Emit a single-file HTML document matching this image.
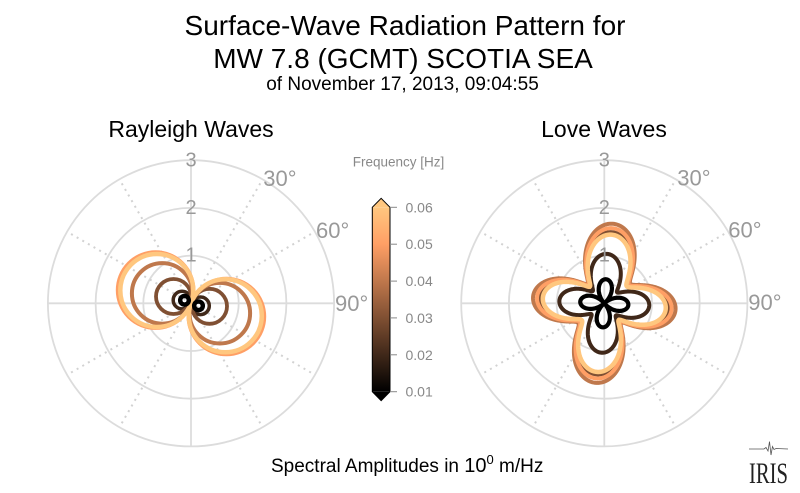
<!DOCTYPE html>
<html><head><meta charset="utf-8">
<style>html,body{margin:0;padding:0;background:#fff;}svg{display:block;}</style>
</head>
<body>
<svg width="800" height="493" viewBox="0 0 800 493" xmlns="http://www.w3.org/2000/svg" font-family="'Liberation Sans', Arial, sans-serif">
<defs>
<linearGradient id="cu" x1="0" y1="1" x2="0" y2="0">
<stop offset="0" stop-color="#000000"/>
<stop offset="0.8" stop-color="#ff9f65"/>
<stop offset="1" stop-color="#ffc77f"/>
</linearGradient>
</defs>
<rect width="800" height="493" fill="#fff"/>

<!-- Titles -->
<text x="405" y="35" font-size="28" text-anchor="middle" fill="#000">Surface-Wave Radiation Pattern for</text>
<text x="403" y="68" font-size="28" text-anchor="middle" fill="#000">MW 7.8 (GCMT) SCOTIA SEA</text>
<text x="402.5" y="90" font-size="19" text-anchor="middle" fill="#000">of November 17, 2013, 09:04:55</text>

<text x="191" y="137" font-size="23" text-anchor="middle" fill="#000">Rayleigh Waves</text>
<text x="604" y="137" font-size="23" text-anchor="middle" fill="#000">Love Waves</text>

<!-- LEFT POLAR -->
<g transform="translate(191,303.3)">
  <g fill="none" stroke="#dcdcdc" stroke-width="1.8">
    <circle r="47.7"/><circle r="95.4"/><circle r="143.1"/>
    <line x1="0" y1="-143.1" x2="0" y2="143.1"/>
    <line x1="-143.1" y1="0" x2="143.1" y2="0"/>
  </g>
  <g stroke="#d2d2d2" stroke-width="2" stroke-dasharray="2,4.5">
    <line x1="0" y1="0" x2="70.5" y2="-122.1"/>
    <line x1="0" y1="0" x2="122.1" y2="-70.5"/>
    <line x1="0" y1="0" x2="122.1" y2="70.5"/>
    <line x1="0" y1="0" x2="70.5" y2="122.1"/>
    <line x1="0" y1="0" x2="-70.5" y2="122.1"/>
    <line x1="0" y1="0" x2="-122.1" y2="70.5"/>
    <line x1="0" y1="0" x2="-122.1" y2="-70.5"/>
    <line x1="0" y1="0" x2="-70.5" y2="-122.1"/>
  </g>
  <g fill="none">
    <circle cx="-9" cy="-3.2" r="8.8" stroke="#402819" stroke-width="3.5"/>
    <circle cx="9.5" cy="2.5" r="8.8" stroke="#402819" stroke-width="3.5"/>
    <circle cx="-17.5" cy="-6.8" r="17.5" stroke="#805033" stroke-width="3.8"/>
    <circle cx="18.5" cy="3" r="17.5" stroke="#805033" stroke-width="3.8"/>
    <circle cx="-28.8" cy="-9.9" r="30.3" stroke="#bf784c" stroke-width="4"/>
    <circle cx="28.8" cy="9.9" r="30.3" stroke="#bf784c" stroke-width="4"/>
    <circle cx="-35.4" cy="-13.2" r="37.8" stroke="#ff9f65" stroke-width="4"/>
    <circle cx="35.4" cy="13.2" r="37.8" stroke="#ff9f65" stroke-width="4"/>
    <circle cx="-34.2" cy="-12.8" r="36.5" stroke="#ffc77f" stroke-width="4.5"/>
    <circle cx="34.3" cy="12.5" r="36.5" stroke="#ffc77f" stroke-width="4.5"/>
    <circle cx="-6.5" cy="-3" r="4.3" stroke="#000" stroke-width="4.5"/>
    <circle cx="7.5" cy="2.5" r="4.3" stroke="#000" stroke-width="4.5"/>
  </g>
  <g fill="#999" font-size="20" text-anchor="middle">
    <text x="0" y="-137">3</text>
    <text x="0" y="-89.4">2</text>
    <text x="0" y="-41.7">1</text>
  </g>
  <g fill="#999" font-size="22">
    <text x="72.3" y="-117.5">30°</text>
    <text x="125" y="-65.5">60°</text>
    <text x="144" y="7.7">90°</text>
  </g>
</g>

<!-- RIGHT POLAR -->
<g transform="translate(604.3,303.3)">
  <g fill="none" stroke="#dcdcdc" stroke-width="1.8">
    <circle r="47.7"/><circle r="95.4"/><circle r="143.1"/>
    <line x1="0" y1="-143.1" x2="0" y2="143.1"/>
    <line x1="-143.1" y1="0" x2="143.1" y2="0"/>
  </g>
  <g stroke="#d2d2d2" stroke-width="2" stroke-dasharray="2,4.5">
    <line x1="0" y1="0" x2="70.5" y2="-122.1"/>
    <line x1="0" y1="0" x2="122.1" y2="-70.5"/>
    <line x1="0" y1="0" x2="122.1" y2="70.5"/>
    <line x1="0" y1="0" x2="70.5" y2="122.1"/>
    <line x1="0" y1="0" x2="-70.5" y2="122.1"/>
    <line x1="0" y1="0" x2="-122.1" y2="70.5"/>
    <line x1="0" y1="0" x2="-122.1" y2="-70.5"/>
    <line x1="0" y1="0" x2="-70.5" y2="-122.1"/>
  </g>
  <g fill="none" stroke-linejoin="round">
    <path id="L1" stroke="#000" stroke-width="4.2" d=""/>
    <path id="L2" stroke="#402819" stroke-width="4" d=""/>
    <path id="L3" stroke="#805033" stroke-width="3" d=""/>
    <path id="L4" stroke="#bf784c" stroke-width="4" d=""/>
    <path id="L5" stroke="#ff9f65" stroke-width="4" d=""/>
    <path id="L6" stroke="#ffc77f" stroke-width="4.5" d=""/>
  </g>
  <g fill="#999" font-size="20" text-anchor="middle">
    <text x="0" y="-137">3</text>
    <text x="0" y="-89.4">2</text>
    <text x="0" y="-41.7">1</text>
  </g>
  <g fill="#999" font-size="22">
    <text x="73" y="-118">30°</text>
    <text x="124" y="-65.8">60°</text>
    <text x="144" y="6.7">90°</text>
  </g>
</g>

<!-- Colorbar -->
<text x="398.5" y="166.5" font-size="13.5" fill="#888" text-anchor="middle">Frequency [Hz]</text>
<rect x="372.3" y="207.3" width="17.7" height="184.4" fill="url(#cu)"/>
<polygon points="372.3,207.3 381.15,198.3 390,207.3" fill="#ffc77f"/>
<polygon points="372.3,391.7 381.15,400.7 390,391.7" fill="#000"/>
<polygon points="381.15,198.3 390,207.3 390,391.7 381.15,400.7 372.3,391.7 372.3,207.3" fill="none" stroke="#000" stroke-width="1"/>
<g stroke="#888" stroke-width="1">
  <line x1="390" y1="207.3" x2="397" y2="207.3"/>
  <line x1="390" y1="244.2" x2="397" y2="244.2"/>
  <line x1="390" y1="281.1" x2="397" y2="281.1"/>
  <line x1="390" y1="317.9" x2="397" y2="317.9"/>
  <line x1="390" y1="354.8" x2="397" y2="354.8"/>
  <line x1="390" y1="391.7" x2="397" y2="391.7"/>
</g>
<g fill="#888" font-size="14">
  <text x="405.5" y="212.3">0.06</text>
  <text x="405.5" y="249.2">0.05</text>
  <text x="405.5" y="286.1">0.04</text>
  <text x="405.5" y="322.9">0.03</text>
  <text x="405.5" y="359.8">0.02</text>
  <text x="405.5" y="396.7">0.01</text>
</g>

<!-- Bottom label -->
<text x="271" y="472" font-size="19" fill="#000">Spectral Amplitudes in <tspan font-size="20">10</tspan><tspan font-size="13" dy="-8">0</tspan><tspan dy="8"> m/Hz</tspan></text>

<!-- IRIS logo -->
<path d="M749 449 L764 449 L766 447.5 L768 451 L769.5 441.5 L771 455 L772.5 446.5 L774 449.5 L776 448.5 L788 449" stroke="#555" stroke-width="0.8" fill="none"/>
<text x="749" y="483" font-family="'Liberation Serif', serif" font-size="30" textLength="39" lengthAdjust="spacingAndGlyphs" fill="#222">IRIS</text>
</svg>

<script>
(function(){
  var D = Math.PI/180;
  function P(f){
    var d = '';
    for (var i = 0; i <= 720; i++) {
      var t = i*Math.PI/360;
      var r = f(t);
      var x = r*Math.sin(t), y = -r*Math.cos(t);
      d += (i ? 'L' : 'M') + x.toFixed(2) + ' ' + y.toFixed(2);
    }
    return d + 'Z';
  }
  function bundle(t){
    var p = 2*(t - 6*D);
    var c = Math.cos(p);
    var v = 4873.5*c*c + 882.5 + 676*Math.cos(p - 17.8*D);
    return Math.sqrt(Math.max(v, 0));
  }
  function dark(t){
    var p = 2*(t - 3*D);
    var c = Math.cos(p);
    var v = 1948.5*c*c + 289 + 212.5*c;
    return Math.sqrt(Math.max(v, 0));
  }
  function black(t){
    var p = 2*(t - 4*D);
    var c = Math.cos(p);
    return Math.sqrt(576*c*c + 4);
  }
  function sc(k){ return function(t){ return k*bundle(t); }; }
  document.getElementById('L1').setAttribute('d', P(black));
  document.getElementById('L2').setAttribute('d', P(dark));
  document.getElementById('L3').setAttribute('d', P(sc(0.9)));
  document.getElementById('L4').setAttribute('d', P(sc(1.0)));
  document.getElementById('L5').setAttribute('d', P(sc(0.944)));
  document.getElementById('L6').setAttribute('d', P(sc(0.8625)));
})();
</script>
</body></html>
